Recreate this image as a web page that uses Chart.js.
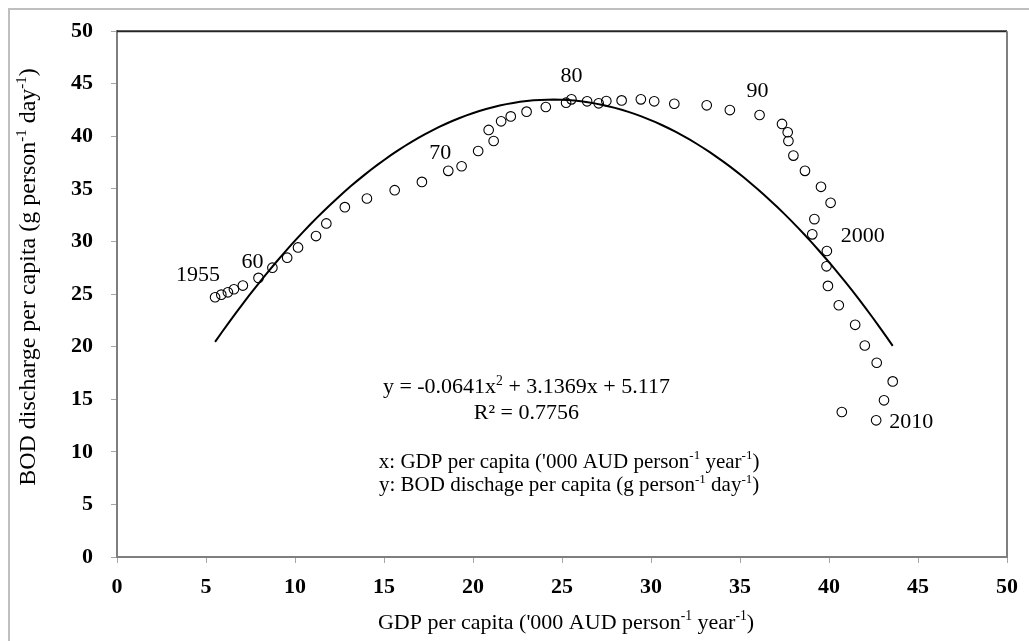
<!DOCTYPE html>
<html>
<head>
<meta charset="utf-8">
<script src="https://cdn.jsdelivr.net/npm/chart.js@4.4.1/dist/chart.umd.min.js"></script>
<style>
  body { margin: 0; background: #fff; }
  canvas { display: block; }
</style>
</head>
<body>
<canvas id="graficoBOD" width="1029" height="641"></canvas>
<script>
// GDP per capita ('000 AUD) e BOD per capita, 1955 - 2010
const gdp = [5.51, 5.86, 6.23, 6.57, 7.07, 7.95, 8.73, 9.56, 10.17, 11.18,
             11.76, 12.80, 14.04, 15.60, 17.13, 18.61, 19.36, 20.29, 21.16, 20.88,
             21.58, 22.12, 23.01, 24.09, 25.23, 25.53, 26.41, 27.06, 27.49, 28.35,
             29.43, 30.18, 31.31, 33.13, 34.43, 36.10, 37.36, 37.68, 37.72, 38.00,
             38.65, 39.55, 40.09, 39.18, 39.06, 39.88, 39.86, 39.94, 40.55, 41.47,
             42.01, 42.68, 43.58, 43.09, 40.72, 42.65];
const bod = [24.70, 24.95, 25.17, 25.46, 25.81, 26.54, 27.51, 28.46, 29.44, 30.52,
             31.72, 33.27, 34.09, 34.88, 35.67, 36.72, 37.16, 38.61, 39.56, 40.61,
             41.43, 41.90, 42.35, 42.79, 43.20, 43.52, 43.33, 43.14, 43.36, 43.42,
             43.52, 43.33, 43.10, 42.95, 42.50, 42.03, 41.18, 40.39, 39.56, 38.17,
             36.72, 35.20, 33.68, 32.13, 30.68, 29.10, 27.64, 25.78, 23.94, 22.08,
             20.11, 18.47, 16.70, 14.90, 13.79, 13.00];

// rotulos dos anos (indice do ponto + texto)
const anosIdx = [0, 5, 15, 25, 35, 45, 55];
const anosTxt = ['1955', '60', '70', '80', '90', '2000', '2010'];

// linha de tendencia polinomial: y = a x^2 + b x + c
const coefTendencia = [-0.0641, 3.1369, 5.117];
const textoR2 = 'R² = 0.7756';

const equacao = [['y = -0.0641x', 0], ['2', 1], [' + 3.1369x + 5.117', 0]];
const tituloX = [["GDP per capita ('000 AUD person", 0], ['-1', 1], [' year', 0], ['-1', 1], [')', 0]];
const tituloY = [['BOD discharge per capita (g person', 0], ['-1', 1], [' day', 0], ['-1', 1], [')', 0]];
const legendaX = [["x: GDP per capita ('000 AUD person", 0], ['-1', 1], [' year', 0], ['-1', 1], [')', 0]];
const legendaY = [['y: BOD dischage per capita (g person', 0], ['-1', 1], [' day', 0], ['-1', 1], [')', 0]];

const FONTE = '"Liberation Serif", "Times New Roman", serif';

let pontos = [];
for (let i = 0; i < gdp.length; i++) {
    pontos.push({ x: gdp[i], y: bod[i] });
}

// pontos da curva a partir dos coeficientes da equacao mostrada
let curva = [];
const xMin = Math.min(...gdp), xMax = Math.max(...gdp);
for (let k = 0; k <= 100; k++) {
    const x = xMin + (xMax - xMin) * k / 100;
    curva.push({ x: x, y: coefTendencia[0] * x * x + coefTendencia[1] * x + coefTendencia[2] });
}

// escreve texto com partes sobrescritas, centrado em (x, y)
function textoRico(ctx, partes, x, y, tam) {
    let largura = 0;
    partes.forEach(p => {
        ctx.font = (p[1] ? tam * 0.62 : tam) + 'px ' + FONTE;
        largura += ctx.measureText(p[0]).width;
    });
    let cx = x - largura / 2;
    ctx.textAlign = 'left';
    ctx.textBaseline = 'middle';
    partes.forEach(p => {
        ctx.font = (p[1] ? tam * 0.62 : tam) + 'px ' + FONTE;
        ctx.fillText(p[0], cx, p[1] ? y - tam * 0.3 : y);
        cx += ctx.measureText(p[0]).width;
    });
}

const desenhosExtras = {
    id: 'desenhosExtras',
    beforeDraw(chart) {
        const ctx = chart.ctx;
        ctx.save();
        ctx.fillStyle = '#fff';
        ctx.fillRect(0, 0, chart.width, chart.height);
        // moldura externa
        ctx.strokeStyle = '#bfbfbf';
        ctx.lineWidth = 2;
        ctx.beginPath();
        ctx.moveTo(9, chart.height);
        ctx.lineTo(9, 9);
        ctx.lineTo(chart.width, 9);
        ctx.stroke();
        ctx.restore();
    },
    afterDraw(chart) {
        const ctx = chart.ctx;
        const area = chart.chartArea;
        const sx = chart.scales.x, sy = chart.scales.y;
        ctx.save();
        // borda superior e direita da area do grafico
        ctx.lineWidth = 2;
        ctx.strokeStyle = '#262626';
        ctx.beginPath();
        ctx.moveTo(area.left, area.top);
        ctx.lineTo(area.right, area.top);
        ctx.stroke();
        ctx.strokeStyle = '#7f7f7f';
        ctx.beginPath();
        ctx.moveTo(area.right, area.top);
        ctx.lineTo(area.right, area.bottom);
        ctx.stroke();

        ctx.fillStyle = '#000';
        // rotulos dos anos
        const desloc = [[-17, -22], [-6, -16], [-8, -18], [0, -23], [-2, -24], [36, -15], [35, 2]];
        ctx.font = '22px ' + FONTE;
        ctx.textAlign = 'center';
        ctx.textBaseline = 'middle';
        anosIdx.forEach((idx, i) => {
            const px = sx.getPixelForValue(gdp[idx]) + desloc[i][0];
            const py = sy.getPixelForValue(bod[idx]) + desloc[i][1];
            ctx.fillText(anosTxt[i], px, py);
        });

        // equacao e legenda
        const xEq = sx.getPixelForValue(23.0);
        const xLeg = sx.getPixelForValue(25.4);
        textoRico(ctx, equacao, xEq, sy.getPixelForValue(16.1), 22);
        ctx.font = '22px ' + FONTE;
        ctx.textAlign = 'center';
        ctx.fillText(textoR2, xEq, sy.getPixelForValue(13.65));
        textoRico(ctx, legendaX, xLeg, sy.getPixelForValue(9.0), 21);
        textoRico(ctx, legendaY, xLeg, sy.getPixelForValue(6.8), 21);

        // titulos dos eixos
        textoRico(ctx, tituloX, (area.left + area.right) / 2 + 4, area.bottom + 66, 22);
        ctx.translate(29, (area.top + area.bottom) / 2 - 17);
        ctx.rotate(-Math.PI / 2);
        textoRico(ctx, tituloY, 0, 0, 24);
        ctx.restore();
    }
};

const fonteTicks = { family: FONTE, size: 22, weight: 'bold' };

const config = {
    type: 'scatter',
    data: {
        datasets: [{
            label: 'BOD',
            data: pontos,
            pointRadius: 4.8,
            pointBorderWidth: 1.1,
            pointBorderColor: '#000',
            pointBackgroundColor: 'rgba(0,0,0,0)',
            order: 1
        },
        {
            label: 'Tendencia',
            data: curva,
            showLine: true,
            borderColor: '#000',
            borderWidth: 2,
            pointRadius: 0,
            tension: 0,
            order: 2
        }]
    },
    options: {
        responsive: false,
        animation: false,
        devicePixelRatio: 1,
        layout: { autoPadding: false, padding: { top: 29, right: 19, left: 0, bottom: 0 } },
        plugins: {
            legend: { display: false },
            tooltip: { enabled: false }
        },
        scales: {
            x: {
                type: 'linear', min: 0, max: 50,
                ticks: { stepSize: 5, font: fonteTicks, color: '#000', padding: 11, maxRotation: 0 },
                grid: { drawOnChartArea: false, tickLength: 6, color: '#a6a6a6' },
                border: { color: '#7f7f7f', width: 2 },
                afterFit: (s) => { s.height = 84; }
            },
            y: {
                min: 0, max: 50,
                ticks: { stepSize: 5, font: fonteTicks, color: '#000', padding: 18 },
                grid: { drawOnChartArea: false, tickLength: 6, color: '#a6a6a6' },
                border: { color: '#7f7f7f', width: 2 },
                afterFit: (s) => { s.width = 117; }
            }
        }
    },
    plugins: [desenhosExtras]
};

let myChart = new Chart(document.getElementById('graficoBOD'), config);
</script>
</body>
</html>
